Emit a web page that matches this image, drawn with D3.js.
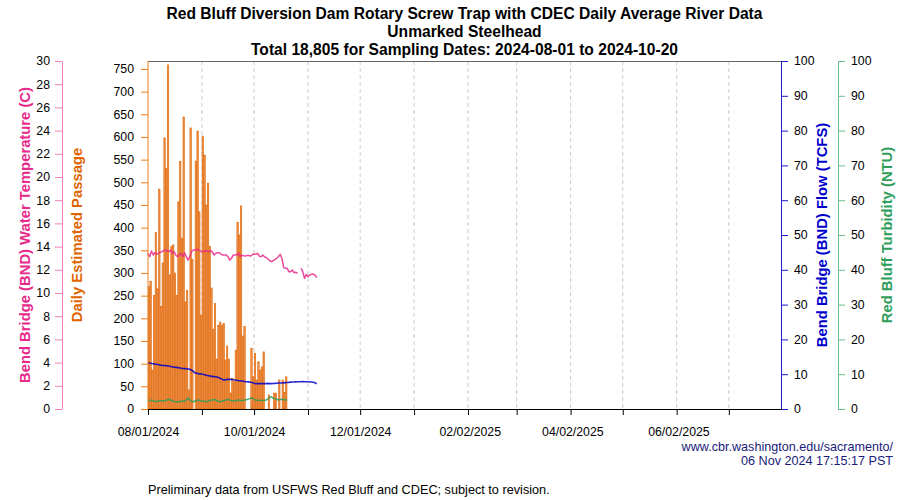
<!DOCTYPE html>
<html>
<head>
<meta charset="utf-8">
<script src="https://cdn.jsdelivr.net/npm/d3@7"></script>
<style>
  html, body { margin: 0; padding: 0; background: #fff; }
  svg { display: block; font-family: "Liberation Sans", Arial, Helvetica, sans-serif; }
</style>
</head>
<body>
<svg id="chart" width="900" height="500"></svg>
<script>
// ---------------- DATA ----------------
const startDate = "2024-08-01";            // first day of every daily series
const domainDates = ["2024-08-01", "2025-07-31"];
const monthTicks = ["2024-08-01","2024-09-01","2024-10-01","2024-11-01","2024-12-01","2025-01-01",
                    "2025-02-01","2025-03-01","2025-04-01","2025-05-01","2025-06-01","2025-07-01"];
const xTickLabels = ["08/01/2024","10/01/2024","12/01/2024","02/02/2025","04/02/2025","06/02/2025"];

// Daily estimated passage, 2024-08-01 .. 2024-10-20
const passage = [270,282,86,250,390,265,485,226,322,598,531,759,296,358,362,300,250,457,546,377,
                 644,236,262,42,620,330,0,547,613,435,206,602,560,450,498,358,267,176,233,110,
                 185,192,185,189,108,139,110,35,68,60,130,411,384,448,161,182,0,0,0,134,
                 71,123,64,104,86,93,126,0,0,31,0,0,35,35,0,64,0,64,37,71,0];

// Bend Bridge water temperature (C), daily from 2024-08-01
const temperature = [13.42,13.13,13.62,13.27,13.47,13.36,13.42,13.5,13.56,13.65,13.71,13.62,13.56,13.71,13.42,13.56,13.27,13.13,13.27,13.42,
                     13.13,13.47,13.13,12.84,13.13,13.56,13.71,13.71,13.77,13.71,13.65,13.56,13.56,13.65,13.62,13.56,13.65,13.56,13.27,13.42,
                     13.47,13.47,13.36,13.27,13.27,13.27,13.13,12.84,12.99,13.27,13.27,13.27,13.47,13.13,13.27,13.2,13.18,13.24,13.24,13.18,
                     13.3,13.36,13.33,13.42,13.18,13.13,13.27,13.13,13.04,12.93,12.78,12.7,12.78,12.9,12.99,13.13,13.33,12.99,12.21,12.13,
                     12.13,11.84,11.84,11.98,11.75,11.78,11.7,null,12.13,11.84,11.26,11.61,11.4,11.55,11.61,11.64,11.55,11.32];

// Bend Bridge flow (TCFS), daily from 2024-08-01
const flow = [13.4,13.2,13.1,13.0,12.9,12.85,12.8,12.6,12.5,12.5,12.5,12.4,12.35,12.2,12.15,12.0,11.95,11.9,11.85,11.7,
              11.65,11.6,11.55,11.5,11.4,11.2,10.8,10.4,10.3,10.15,10.1,10.05,9.9,9.75,9.65,9.55,9.45,9.38,9.3,9.25,
              9.1,8.95,8.7,8.5,8.35,8.45,8.5,8.55,8.5,8.4,8.33,8.25,8.14,8.1,8.05,7.95,7.85,7.85,7.8,7.7,
              7.6,7.4,7.28,7.28,7.3,7.28,7.3,7.28,7.3,7.37,7.3,7.28,7.33,7.37,7.4,7.47,7.47,7.47,7.52,7.57,
              7.62,7.66,7.72,7.76,7.78,7.8,7.83,7.85,7.85,7.86,7.85,7.85,7.85,7.83,7.78,7.7,7.57,7.2];

// Red Bluff turbidity (NTU), daily from 2024-08-01
const turbidity = [2.1,2.4,2.6,2.3,2.1,2.2,2.3,2.35,2.4,2.35,2.4,2.6,2.8,2.6,2.3,2.15,2.1,2.1,2.1,2.2,
                   2.3,2.3,2.5,3.2,2.7,2.2,2.1,2.3,2.45,2.6,2.45,2.3,2.2,2.1,2.2,2.3,2.5,2.6,2.7,2.6,
                   2.3,2.1,2.2,2.3,2.5,2.6,2.8,2.55,2.4,2.35,2.3,2.45,2.6,2.5,2.4,2.5,2.6,2.7,2.9,3.1,
                   3.2,2.8,2.45,2.5,2.55,2.5,2.4,2.5,2.6,2.9,3.3,3.5,3.0,3.0,2.8,2.6,2.7,2.8,2.7,2.6,2.6];

const tempTicks = d3.range(0, 31, 2);
const passageTicks = d3.range(0, 751, 50);
const flowTicks = d3.range(0, 101, 10);
const turbTicks = d3.range(0, 101, 10);

const titleLines = ["Red Bluff Diversion Dam Rotary Screw Trap with CDEC Daily Average River Data",
                    "Unmarked Steelhead",
                    "Total 18,805 for Sampling Dates: 2024-08-01 to 2024-10-20"];

// ---------------- LAYOUT ----------------
const svg = d3.select("#chart");
const L = 148, R = 781, T = 61, B = 409;
const parse = d3.utcParse("%Y-%m-%d");
const parseLbl = d3.utcParse("%m/%d/%Y");
const day0 = parse(startDate);
const dayAt = i => d3.utcDay.offset(day0, i);

const x = d3.scaleUtc().domain(domainDates.map(parse)).range([L, R]);
const yPass = d3.scaleLinear().domain([0, 767.6]).range([B, T]);
const yTemp = d3.scaleLinear().domain([0, 30]).range([B, T]);
const yFlow = d3.scaleLinear().domain([0, 100]).range([B, T]);
const yTurb = d3.scaleLinear().domain([0, 100]).range([B, T]);

const C = {
  pink: "#e7298a", pinkAxis: "#f27db8",
  orange: "#e06400", orangeFill: "#ec9350", orangeAxis: "#e8801e",
  blue: "#0000cc", blueAxis: "#1a1ad0",
  green: "#2e9e5a", greenAxis: "#6cc08c",
  navy: "#1a1a7a"
};
const FONT = 12.3;
const FF = '"Liberation Sans", Arial, sans-serif';

// gridlines
svg.append("g").selectAll("line").data(monthTicks.slice(1).map(parse)).join("line")
  .attr("x1", d => x(d)).attr("x2", d => x(d)).attr("y1", T).attr("y2", B)
  .attr("stroke", "#cccccc").attr("stroke-dasharray", "4,3").attr("stroke-width", 1);

// bars
const step = x(dayAt(1)) - x(dayAt(0));
svg.append("g").selectAll("rect").data(passage).join("rect")
  .attr("x", (v, i) => x(dayAt(i)) + 0.2)
  .attr("width", step * 0.8)
  .attr("y", v => yPass(v))
  .attr("height", v => B - yPass(v))
  .attr("fill", C.orangeFill)
  .attr("stroke", C.orange).attr("stroke-width", 0.6);

// lines
function drawLine(arr, yS, color, width) {
  const line = d3.line().defined(v => v != null)
    .x((v, i) => x(dayAt(i))).y(v => yS(v));
  svg.append("path").datum(arr).attr("d", line)
    .attr("fill", "none").attr("stroke", color).attr("stroke-width", width)
    .attr("stroke-opacity", 0.85).attr("stroke-linejoin", "round");
}
drawLine(temperature, yTemp, C.pink, 1.5);
drawLine(flow, yFlow, C.blue, 1.6);
drawLine(turbidity, yTurb, C.green, 1.5);

// top frame
svg.append("line").attr("x1", L).attr("x2", R).attr("y1", T + 0.5).attr("y2", T + 0.5)
  .attr("stroke", "#666").attr("stroke-width", 1);

// axes
function styleAxis(g, lineColor) {
  g.select(".domain").attr("stroke", lineColor);
  g.selectAll(".tick line").attr("stroke", lineColor);
  g.selectAll("text").attr("fill", "#000").attr("font-size", FONT).attr("font-family", FF);
}
const gTemp = svg.append("g").attr("transform", "translate(62,0)")
  .call(d3.axisLeft(yTemp).tickValues(tempTicks).tickSize(7).tickSizeOuter(0).tickPadding(5));
styleAxis(gTemp, C.pinkAxis);
const gPass = svg.append("g").attr("transform", `translate(${L},0)`)
  .call(d3.axisLeft(yPass).tickValues(passageTicks).tickSize(7).tickSizeOuter(0).tickPadding(7));
styleAxis(gPass, C.orangeAxis);
gPass.select(".domain").attr("d", `M0,${B}V${T}`);
const gFlow = svg.append("g").attr("transform", `translate(${R},0)`)
  .call(d3.axisRight(yFlow).tickValues(flowTicks).tickSize(7).tickSizeOuter(0).tickPadding(6));
styleAxis(gFlow, C.blueAxis);
const gTurb = svg.append("g").attr("transform", "translate(838,0)")
  .call(d3.axisRight(yTurb).tickValues(turbTicks).tickSize(7).tickSizeOuter(0).tickPadding(6));
styleAxis(gTurb, C.greenAxis);

// x axis
const gx = svg.append("g").attr("transform", `translate(0,${B})`)
  .call(d3.axisBottom(x).tickValues(monthTicks.map(parse)).tickSize(6).tickSizeOuter(0).tickFormat(""));
gx.select(".domain").attr("stroke", "#000");
gx.selectAll(".tick line").attr("stroke", "#000");
const gxl = svg.append("g").attr("transform", `translate(0,${B})`)
  .call(d3.axisBottom(x).tickValues(xTickLabels.map(parseLbl)).tickSize(0).tickPadding(18)
    .tickFormat(d3.utcFormat("%m/%d/%Y")));
gxl.select(".domain").remove();
gxl.selectAll("text").attr("fill", "#000").attr("font-size", FONT).attr("font-family", FF);

// axis titles
function vTitle(txt, cx, color) {
  svg.append("text").attr("transform", `translate(${cx},${(T + B) / 2}) rotate(-90)`)
    .attr("text-anchor", "middle").attr("dominant-baseline", "central")
    .attr("font-size", 14.8).attr("font-weight", "bold").attr("fill", color).text(txt);
}
vTitle("Bend Bridge (BND) Water Temperature (C)", 25, C.pink);
vTitle("Daily Estimated Passage", 77, C.orange);
vTitle("Bend Bridge (BND) Flow (TCFS)", 822, C.blue);
vTitle("Red Bluff Turbidity (NTU)", 887, C.green);

// title
svg.append("g").selectAll("text").data(titleLines).join("text")
  .attr("x", (L + R) / 2).attr("y", (d, i) => 18.5 + i * 18)
  .attr("text-anchor", "middle").attr("font-size", 15.6).attr("font-weight", "bold")
  .attr("fill", "#000").text(d => d);

// footer
svg.append("text").attr("x", 893).attr("y", 451).attr("text-anchor", "end")
  .attr("font-size", 12.6).attr("fill", C.navy).text("www.cbr.washington.edu/sacramento/");
svg.append("text").attr("x", 893).attr("y", 465).attr("text-anchor", "end")
  .attr("font-size", 12.6).attr("fill", C.navy).text("06 Nov 2024 17:15:17 PST");
svg.append("text").attr("x", 148).attr("y", 494)
  .attr("font-size", 12.7).attr("fill", "#000")
  .text("Preliminary data from USFWS Red Bluff and CDEC; subject to revision.");
</script>
</body>
</html>
